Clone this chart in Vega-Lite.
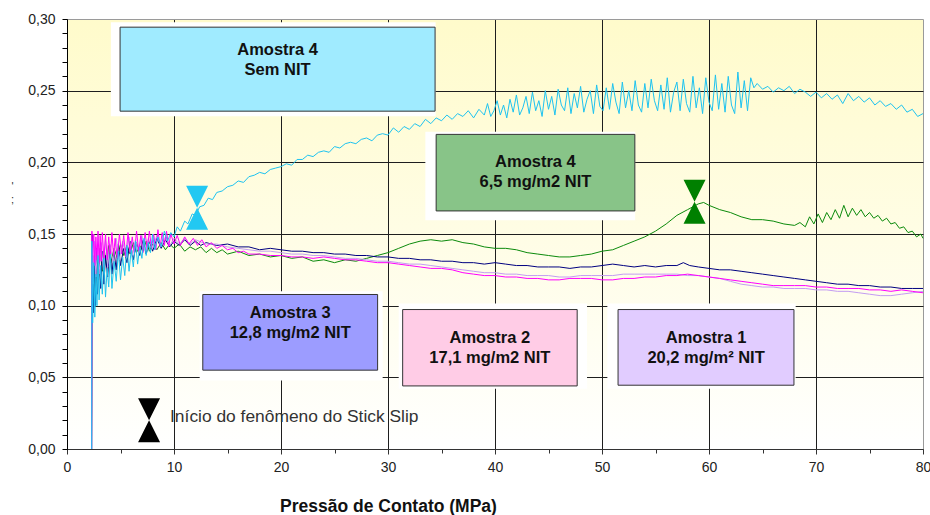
{
"$schema": "https://vega.github.io/schema/vega-lite/v6.json",
"width": 856, "height": 430,
"autosize": "none",
"padding": {"left": 67, "top": 19, "right": 7, "bottom": 66},
"background": "white",
"config": {"view": {"stroke": null, "fill": {"gradient": "linear", "x1": 0, "y1": 0, "x2": 0, "y2": 1, "stops": [{"offset": 0, "color": "#FFFBCB"}, {"offset": 1, "color": "#FFFFFF"}]}}, "font": "Liberation Sans"},
"datasets": {
"green": [{"x":2.3,"y":0.0},{"x":2.35,"y":0.13},{"x":2.45,"y":0.1},{"x":2.55,"y":0.128},{"x":2.65,"y":0.11},{"x":2.8,"y":0.135},{"x":2.95,"y":0.118},{"x":3.1,"y":0.14},{"x":3.3,"y":0.124},{"x":3.5,"y":0.138},{"x":3.7,"y":0.127},{"x":3.9,"y":0.142},{"x":4.1,"y":0.13},{"x":4.4,"y":0.14},{"x":4.7,"y":0.133},{"x":5.0,"y":0.143},{"x":5.3,"y":0.135},{"x":5.6,"y":0.142},{"x":5.9,"y":0.136},{"x":6.2,"y":0.144},{"x":6.5,"y":0.137},{"x":6.8,"y":0.142},{"x":7.1,"y":0.138},{"x":7.4,"y":0.145},{"x":7.7,"y":0.138},{"x":8.0,"y":0.143},{"x":8.4,"y":0.139},{"x":8.8,"y":0.144},{"x":9.2,"y":0.139},{"x":9.6,"y":0.143},{"x":10.0,"y":0.14},{"x":10.5,"y":0.143},{"x":11.0,"y":0.138},{"x":11.5,"y":0.141},{"x":12.0,"y":0.139},{"x":12.5,"y":0.141},{"x":13.0,"y":0.137},{"x":13.5,"y":0.14},{"x":14.0,"y":0.137},{"x":14.5,"y":0.139},{"x":15.0,"y":0.136},{"x":16.0,"y":0.138},{"x":17.0,"y":0.135},{"x":18.0,"y":0.136},{"x":19.0,"y":0.134},{"x":20.0,"y":0.135},{"x":21.0,"y":0.133},{"x":22.0,"y":0.134},{"x":23.0,"y":0.131},{"x":24.0,"y":0.132},{"x":25.0,"y":0.13},{"x":26.0,"y":0.132},{"x":27.0,"y":0.131},{"x":28.0,"y":0.133},{"x":29.0,"y":0.135},{"x":30.0,"y":0.137},{"x":31.0,"y":0.14},{"x":32.0,"y":0.143},{"x":33.0,"y":0.145},{"x":34.0,"y":0.146},{"x":35.0,"y":0.145},{"x":36.0,"y":0.146},{"x":37.0,"y":0.144},{"x":38.0,"y":0.143},{"x":39.0,"y":0.141},{"x":40.0,"y":0.14},{"x":41.0,"y":0.14},{"x":42.0,"y":0.139},{"x":43.0,"y":0.137},{"x":44.0,"y":0.136},{"x":45.0,"y":0.135},{"x":46.0,"y":0.134},{"x":47.0,"y":0.134},{"x":48.0,"y":0.135},{"x":49.0,"y":0.136},{"x":50.0,"y":0.138},{"x":51.0,"y":0.139},{"x":52.0,"y":0.142},{"x":53.0,"y":0.145},{"x":54.0,"y":0.148},{"x":55.0,"y":0.152},{"x":56.0,"y":0.157},{"x":57.0,"y":0.163},{"x":58.0,"y":0.167},{"x":59.0,"y":0.171},{"x":59.5,"y":0.172},{"x":60.0,"y":0.17},{"x":61.0,"y":0.167},{"x":62.0,"y":0.165},{"x":63.0,"y":0.162},{"x":64.0,"y":0.16},{"x":65.0,"y":0.16},{"x":66.0,"y":0.159},{"x":67.0,"y":0.157},{"x":68.0,"y":0.156},{"x":68.5,"y":0.158},{"x":69.0,"y":0.155},{"x":69.4,"y":0.162},{"x":69.8,"y":0.157},{"x":70.2,"y":0.164},{"x":70.6,"y":0.158},{"x":71.0,"y":0.165},{"x":71.4,"y":0.16},{"x":71.8,"y":0.167},{"x":72.2,"y":0.161},{"x":72.6,"y":0.17},{"x":73.0,"y":0.162},{"x":73.4,"y":0.168},{"x":73.8,"y":0.163},{"x":74.2,"y":0.167},{"x":74.6,"y":0.162},{"x":75.0,"y":0.165},{"x":75.4,"y":0.161},{"x":75.8,"y":0.163},{"x":76.2,"y":0.159},{"x":76.6,"y":0.161},{"x":77.0,"y":0.157},{"x":77.4,"y":0.158},{"x":77.8,"y":0.154},{"x":78.2,"y":0.155},{"x":78.6,"y":0.151},{"x":79.0,"y":0.152},{"x":79.4,"y":0.148},{"x":79.8,"y":0.15},{"x":80.0,"y":0.147}],
"navy": [{"x":2.3,"y":0.0},{"x":2.35,"y":0.15},{"x":2.45,"y":0.095},{"x":2.55,"y":0.135},{"x":2.65,"y":0.1},{"x":2.75,"y":0.14},{"x":2.85,"y":0.108},{"x":3.0,"y":0.13},{"x":3.15,"y":0.112},{"x":3.3,"y":0.138},{"x":3.45,"y":0.115},{"x":3.6,"y":0.135},{"x":3.8,"y":0.12},{"x":4.0,"y":0.142},{"x":4.2,"y":0.122},{"x":4.4,"y":0.138},{"x":4.6,"y":0.125},{"x":4.8,"y":0.143},{"x":5.0,"y":0.128},{"x":5.3,"y":0.14},{"x":5.6,"y":0.13},{"x":5.9,"y":0.145},{"x":6.2,"y":0.132},{"x":6.5,"y":0.144},{"x":6.8,"y":0.135},{"x":7.1,"y":0.146},{"x":7.4,"y":0.136},{"x":7.7,"y":0.145},{"x":8.0,"y":0.138},{"x":8.4,"y":0.147},{"x":8.8,"y":0.14},{"x":9.2,"y":0.146},{"x":9.6,"y":0.141},{"x":10.0,"y":0.145},{"x":10.5,"y":0.142},{"x":11.0,"y":0.146},{"x":11.5,"y":0.142},{"x":12.0,"y":0.145},{"x":12.5,"y":0.142},{"x":13.0,"y":0.144},{"x":14.0,"y":0.142},{"x":15.0,"y":0.143},{"x":16.0,"y":0.141},{"x":17.0,"y":0.141},{"x":18.0,"y":0.139},{"x":19.0,"y":0.14},{"x":20.0,"y":0.139},{"x":21.0,"y":0.138},{"x":22.0,"y":0.138},{"x":23.0,"y":0.137},{"x":24.0,"y":0.137},{"x":25.0,"y":0.136},{"x":26.0,"y":0.136},{"x":27.0,"y":0.135},{"x":28.0,"y":0.135},{"x":29.0,"y":0.134},{"x":30.0,"y":0.134},{"x":31.0,"y":0.133},{"x":32.0,"y":0.133},{"x":33.0,"y":0.132},{"x":34.0,"y":0.132},{"x":35.0,"y":0.131},{"x":36.0,"y":0.131},{"x":37.0,"y":0.13},{"x":38.0,"y":0.13},{"x":39.0,"y":0.129},{"x":40.0,"y":0.13},{"x":41.0,"y":0.129},{"x":42.0,"y":0.128},{"x":43.0,"y":0.128},{"x":44.0,"y":0.127},{"x":45.0,"y":0.127},{"x":46.0,"y":0.127},{"x":47.0,"y":0.126},{"x":48.0,"y":0.127},{"x":49.0,"y":0.127},{"x":50.0,"y":0.128},{"x":51.0,"y":0.129},{"x":52.0,"y":0.128},{"x":53.0,"y":0.127},{"x":54.0,"y":0.128},{"x":55.0,"y":0.127},{"x":56.0,"y":0.128},{"x":57.0,"y":0.128},{"x":57.6,"y":0.13},{"x":58.2,"y":0.128},{"x":59.0,"y":0.127},{"x":60.0,"y":0.126},{"x":61.0,"y":0.125},{"x":62.0,"y":0.125},{"x":63.0,"y":0.124},{"x":64.0,"y":0.123},{"x":65.0,"y":0.122},{"x":66.0,"y":0.121},{"x":67.0,"y":0.12},{"x":68.0,"y":0.119},{"x":69.0,"y":0.118},{"x":70.0,"y":0.117},{"x":71.0,"y":0.116},{"x":72.0,"y":0.115},{"x":73.0,"y":0.115},{"x":74.0,"y":0.114},{"x":75.0,"y":0.114},{"x":76.0,"y":0.113},{"x":77.0,"y":0.113},{"x":78.0,"y":0.112},{"x":79.0,"y":0.112},{"x":80.0,"y":0.112}],
"lavender": [{"x":2.3,"y":0.0},{"x":2.35,"y":0.14},{"x":2.45,"y":0.115},{"x":2.55,"y":0.145},{"x":2.7,"y":0.12},{"x":2.85,"y":0.142},{"x":3.0,"y":0.122},{"x":3.2,"y":0.144},{"x":3.4,"y":0.125},{"x":3.6,"y":0.146},{"x":3.8,"y":0.127},{"x":4.0,"y":0.143},{"x":4.3,"y":0.13},{"x":4.6,"y":0.147},{"x":4.9,"y":0.132},{"x":5.2,"y":0.145},{"x":5.5,"y":0.134},{"x":5.8,"y":0.148},{"x":6.1,"y":0.135},{"x":6.4,"y":0.146},{"x":6.7,"y":0.137},{"x":7.0,"y":0.149},{"x":7.3,"y":0.138},{"x":7.6,"y":0.147},{"x":8.0,"y":0.14},{"x":8.4,"y":0.149},{"x":8.8,"y":0.141},{"x":9.2,"y":0.148},{"x":9.6,"y":0.142},{"x":10.0,"y":0.147},{"x":10.5,"y":0.143},{"x":11.0,"y":0.147},{"x":11.5,"y":0.143},{"x":12.0,"y":0.146},{"x":13.0,"y":0.143},{"x":14.0,"y":0.143},{"x":15.0,"y":0.141},{"x":16.0,"y":0.14},{"x":17.0,"y":0.139},{"x":18.0,"y":0.138},{"x":19.0,"y":0.138},{"x":20.0,"y":0.137},{"x":21.0,"y":0.136},{"x":22.0,"y":0.136},{"x":23.0,"y":0.135},{"x":24.0,"y":0.135},{"x":25.0,"y":0.134},{"x":26.0,"y":0.133},{"x":27.0,"y":0.133},{"x":28.0,"y":0.132},{"x":29.0,"y":0.131},{"x":30.0,"y":0.131},{"x":31.0,"y":0.13},{"x":32.0,"y":0.129},{"x":33.0,"y":0.129},{"x":34.0,"y":0.128},{"x":35.0,"y":0.127},{"x":36.0,"y":0.126},{"x":37.0,"y":0.125},{"x":38.0,"y":0.124},{"x":39.0,"y":0.123},{"x":40.0,"y":0.123},{"x":41.0,"y":0.122},{"x":42.0,"y":0.122},{"x":43.0,"y":0.121},{"x":44.0,"y":0.121},{"x":45.0,"y":0.121},{"x":46.0,"y":0.12},{"x":47.0,"y":0.12},{"x":48.0,"y":0.121},{"x":49.0,"y":0.121},{"x":50.0,"y":0.121},{"x":51.0,"y":0.121},{"x":52.0,"y":0.122},{"x":53.0,"y":0.122},{"x":54.0,"y":0.122},{"x":55.0,"y":0.122},{"x":56.0,"y":0.122},{"x":57.0,"y":0.122},{"x":58.0,"y":0.121},{"x":59.0,"y":0.121},{"x":60.0,"y":0.12},{"x":61.0,"y":0.119},{"x":62.0,"y":0.117},{"x":63.0,"y":0.115},{"x":64.0,"y":0.114},{"x":65.0,"y":0.113},{"x":66.0,"y":0.113},{"x":67.0,"y":0.112},{"x":68.0,"y":0.112},{"x":69.0,"y":0.112},{"x":70.0,"y":0.111},{"x":71.0,"y":0.111},{"x":72.0,"y":0.11},{"x":73.0,"y":0.11},{"x":74.0,"y":0.109},{"x":75.0,"y":0.108},{"x":76.0,"y":0.107},{"x":77.0,"y":0.107},{"x":78.0,"y":0.108},{"x":79.0,"y":0.109},{"x":80.0,"y":0.11}],
"magenta": [{"x":2.3,"y":0.0},{"x":2.33,"y":0.152},{"x":2.4,"y":0.13},{"x":2.5,"y":0.15},{"x":2.6,"y":0.128},{"x":2.7,"y":0.148},{"x":2.8,"y":0.132},{"x":2.9,"y":0.152},{"x":3.0,"y":0.13},{"x":3.1,"y":0.149},{"x":3.2,"y":0.131},{"x":3.3,"y":0.151},{"x":3.45,"y":0.133},{"x":3.6,"y":0.15},{"x":3.75,"y":0.132},{"x":3.9,"y":0.148},{"x":4.05,"y":0.134},{"x":4.2,"y":0.151},{"x":4.35,"y":0.135},{"x":4.5,"y":0.147},{"x":4.7,"y":0.133},{"x":4.9,"y":0.15},{"x":5.1,"y":0.136},{"x":5.3,"y":0.149},{"x":5.5,"y":0.134},{"x":5.7,"y":0.151},{"x":5.9,"y":0.137},{"x":6.1,"y":0.148},{"x":6.3,"y":0.136},{"x":6.5,"y":0.152},{"x":6.7,"y":0.138},{"x":6.9,"y":0.149},{"x":7.1,"y":0.137},{"x":7.3,"y":0.151},{"x":7.5,"y":0.139},{"x":7.7,"y":0.152},{"x":7.9,"y":0.14},{"x":8.1,"y":0.15},{"x":8.3,"y":0.139},{"x":8.5,"y":0.153},{"x":8.7,"y":0.141},{"x":8.9,"y":0.151},{"x":9.1,"y":0.142},{"x":9.3,"y":0.152},{"x":9.5,"y":0.141},{"x":9.7,"y":0.15},{"x":10.0,"y":0.143},{"x":10.3,"y":0.149},{"x":10.6,"y":0.142},{"x":11.0,"y":0.148},{"x":11.4,"y":0.143},{"x":11.8,"y":0.147},{"x":12.2,"y":0.142},{"x":12.6,"y":0.146},{"x":13.0,"y":0.141},{"x":13.5,"y":0.144},{"x":14.0,"y":0.14},{"x":14.5,"y":0.142},{"x":15.0,"y":0.139},{"x":15.5,"y":0.14},{"x":16.0,"y":0.137},{"x":16.5,"y":0.138},{"x":17.0,"y":0.136},{"x":18.0,"y":0.136},{"x":19.0,"y":0.135},{"x":20.0,"y":0.135},{"x":21.0,"y":0.134},{"x":22.0,"y":0.134},{"x":23.0,"y":0.133},{"x":24.0,"y":0.134},{"x":25.0,"y":0.133},{"x":26.0,"y":0.132},{"x":27.0,"y":0.132},{"x":28.0,"y":0.131},{"x":29.0,"y":0.13},{"x":30.0,"y":0.13},{"x":31.0,"y":0.129},{"x":32.0,"y":0.128},{"x":33.0,"y":0.127},{"x":34.0,"y":0.126},{"x":35.0,"y":0.126},{"x":36.0,"y":0.125},{"x":37.0,"y":0.123},{"x":38.0,"y":0.122},{"x":39.0,"y":0.121},{"x":40.0,"y":0.121},{"x":41.0,"y":0.12},{"x":42.0,"y":0.12},{"x":43.0,"y":0.119},{"x":44.0,"y":0.119},{"x":45.0,"y":0.118},{"x":46.0,"y":0.118},{"x":47.0,"y":0.119},{"x":48.0,"y":0.119},{"x":49.0,"y":0.119},{"x":50.0,"y":0.118},{"x":51.0,"y":0.118},{"x":52.0,"y":0.119},{"x":53.0,"y":0.119},{"x":54.0,"y":0.12},{"x":55.0,"y":0.12},{"x":56.0,"y":0.121},{"x":57.0,"y":0.121},{"x":58.0,"y":0.122},{"x":59.0,"y":0.121},{"x":60.0,"y":0.12},{"x":61.0,"y":0.119},{"x":62.0,"y":0.118},{"x":63.0,"y":0.117},{"x":64.0,"y":0.116},{"x":65.0,"y":0.115},{"x":66.0,"y":0.114},{"x":67.0,"y":0.114},{"x":68.0,"y":0.114},{"x":69.0,"y":0.114},{"x":70.0,"y":0.113},{"x":71.0,"y":0.113},{"x":72.0,"y":0.112},{"x":73.0,"y":0.112},{"x":74.0,"y":0.112},{"x":75.0,"y":0.111},{"x":76.0,"y":0.111},{"x":77.0,"y":0.11},{"x":78.0,"y":0.111},{"x":79.0,"y":0.11},{"x":80.0,"y":0.109}],
"cyan": [{"x":2.3,"y":0.0},{"x":2.32,"y":0.145},{"x":2.4,"y":0.088},{"x":2.5,"y":0.13},{"x":2.6,"y":0.092},{"x":2.7,"y":0.122},{"x":2.8,"y":0.1},{"x":2.9,"y":0.135},{"x":3.0,"y":0.104},{"x":3.15,"y":0.128},{"x":3.3,"y":0.108},{"x":3.45,"y":0.133},{"x":3.6,"y":0.106},{"x":3.75,"y":0.126},{"x":3.9,"y":0.113},{"x":4.05,"y":0.136},{"x":4.2,"y":0.112},{"x":4.4,"y":0.131},{"x":4.6,"y":0.117},{"x":4.8,"y":0.138},{"x":5.0,"y":0.118},{"x":5.2,"y":0.134},{"x":5.4,"y":0.121},{"x":5.6,"y":0.142},{"x":5.8,"y":0.124},{"x":6.0,"y":0.139},{"x":6.2,"y":0.127},{"x":6.4,"y":0.145},{"x":6.6,"y":0.129},{"x":6.8,"y":0.141},{"x":7.0,"y":0.133},{"x":7.2,"y":0.147},{"x":7.4,"y":0.135},{"x":7.6,"y":0.144},{"x":7.8,"y":0.137},{"x":8.0,"y":0.15},{"x":8.2,"y":0.139},{"x":8.5,"y":0.148},{"x":8.8,"y":0.141},{"x":9.1,"y":0.152},{"x":9.4,"y":0.145},{"x":9.7,"y":0.151},{"x":10.0,"y":0.148},{"x":10.3,"y":0.155},{"x":10.6,"y":0.152},{"x":11.0,"y":0.159},{"x":11.3,"y":0.157},{"x":11.7,"y":0.164},{"x":12.0,"y":0.163},{"x":12.4,"y":0.169},{"x":12.8,"y":0.17},{"x":13.2,"y":0.175},{"x":13.6,"y":0.174},{"x":14.0,"y":0.179},{"x":14.5,"y":0.18},{"x":15.0,"y":0.183},{"x":15.5,"y":0.184},{"x":16.0,"y":0.187},{"x":16.5,"y":0.186},{"x":17.0,"y":0.19},{"x":17.5,"y":0.191},{"x":18.0,"y":0.193},{"x":18.5,"y":0.192},{"x":19.0,"y":0.195},{"x":19.5,"y":0.196},{"x":20.0,"y":0.197},{"x":20.5,"y":0.199},{"x":21.0,"y":0.198},{"x":21.5,"y":0.202},{"x":22.0,"y":0.202},{"x":22.5,"y":0.205},{"x":23.0,"y":0.204},{"x":23.5,"y":0.207},{"x":24.0,"y":0.208},{"x":24.5,"y":0.207},{"x":25.0,"y":0.211},{"x":25.5,"y":0.21},{"x":26.0,"y":0.213},{"x":26.5,"y":0.214},{"x":27.0,"y":0.213},{"x":27.5,"y":0.216},{"x":28.0,"y":0.217},{"x":28.5,"y":0.215},{"x":29.0,"y":0.219},{"x":29.5,"y":0.22},{"x":30.0,"y":0.219},{"x":30.5,"y":0.224},{"x":31.0,"y":0.221},{"x":31.5,"y":0.225},{"x":32.0,"y":0.223},{"x":32.5,"y":0.227},{"x":33.0,"y":0.225},{"x":33.5,"y":0.23},{"x":34.0,"y":0.227},{"x":34.5,"y":0.231},{"x":35.0,"y":0.229},{"x":35.5,"y":0.233},{"x":36.0,"y":0.23},{"x":36.5,"y":0.234},{"x":37.0,"y":0.232},{"x":37.5,"y":0.236},{"x":38.0,"y":0.231},{"x":38.5,"y":0.237},{"x":39.0,"y":0.233},{"x":39.3,"y":0.241},{"x":39.6,"y":0.232},{"x":39.9,"y":0.236},{"x":40.2,"y":0.243},{"x":40.5,"y":0.233},{"x":40.8,"y":0.24},{"x":41.1,"y":0.231},{"x":41.4,"y":0.244},{"x":41.7,"y":0.235},{"x":42.0,"y":0.247},{"x":42.3,"y":0.233},{"x":42.6,"y":0.238},{"x":42.9,"y":0.246},{"x":43.2,"y":0.234},{"x":43.5,"y":0.249},{"x":43.8,"y":0.236},{"x":44.1,"y":0.243},{"x":44.4,"y":0.232},{"x":44.7,"y":0.25},{"x":45.0,"y":0.237},{"x":45.3,"y":0.246},{"x":45.6,"y":0.233},{"x":45.9,"y":0.251},{"x":46.2,"y":0.24},{"x":46.5,"y":0.236},{"x":46.8,"y":0.252},{"x":47.1,"y":0.234},{"x":47.4,"y":0.248},{"x":47.7,"y":0.238},{"x":48.0,"y":0.253},{"x":48.3,"y":0.235},{"x":48.6,"y":0.244},{"x":48.9,"y":0.25},{"x":49.2,"y":0.234},{"x":49.5,"y":0.254},{"x":49.8,"y":0.239},{"x":50.1,"y":0.236},{"x":50.4,"y":0.252},{"x":50.7,"y":0.237},{"x":51.0,"y":0.255},{"x":51.3,"y":0.242},{"x":51.6,"y":0.234},{"x":51.9,"y":0.256},{"x":52.2,"y":0.238},{"x":52.5,"y":0.25},{"x":52.8,"y":0.236},{"x":53.1,"y":0.257},{"x":53.4,"y":0.24},{"x":53.7,"y":0.235},{"x":54.0,"y":0.255},{"x":54.3,"y":0.238},{"x":54.6,"y":0.258},{"x":54.9,"y":0.243},{"x":55.2,"y":0.236},{"x":55.5,"y":0.254},{"x":55.8,"y":0.237},{"x":56.1,"y":0.259},{"x":56.4,"y":0.235},{"x":56.7,"y":0.249},{"x":57.0,"y":0.256},{"x":57.3,"y":0.236},{"x":57.6,"y":0.258},{"x":57.9,"y":0.241},{"x":58.2,"y":0.235},{"x":58.5,"y":0.26},{"x":58.8,"y":0.238},{"x":59.1,"y":0.252},{"x":59.4,"y":0.234},{"x":59.7,"y":0.259},{"x":60.0,"y":0.242},{"x":60.3,"y":0.236},{"x":60.6,"y":0.261},{"x":60.9,"y":0.237},{"x":61.2,"y":0.255},{"x":61.5,"y":0.235},{"x":61.8,"y":0.26},{"x":62.1,"y":0.24},{"x":62.4,"y":0.234},{"x":62.7,"y":0.263},{"x":63.0,"y":0.238},{"x":63.3,"y":0.257},{"x":63.6,"y":0.236},{"x":63.9,"y":0.259},{"x":64.2,"y":0.252},{"x":64.5,"y":0.255},{"x":65.0,"y":0.251},{"x":65.5,"y":0.253},{"x":66.0,"y":0.249},{"x":66.5,"y":0.252},{"x":67.0,"y":0.25},{"x":67.5,"y":0.253},{"x":68.0,"y":0.248},{"x":68.5,"y":0.251},{"x":69.0,"y":0.249},{"x":69.5,"y":0.246},{"x":70.0,"y":0.249},{"x":70.5,"y":0.245},{"x":71.0,"y":0.248},{"x":71.5,"y":0.244},{"x":72.0,"y":0.247},{"x":72.5,"y":0.241},{"x":73.0,"y":0.248},{"x":73.5,"y":0.243},{"x":74.0,"y":0.246},{"x":74.5,"y":0.242},{"x":75.0,"y":0.245},{"x":75.5,"y":0.24},{"x":76.0,"y":0.243},{"x":76.5,"y":0.239},{"x":77.0,"y":0.241},{"x":77.5,"y":0.237},{"x":78.0,"y":0.24},{"x":78.5,"y":0.235},{"x":79.0,"y":0.237},{"x":79.5,"y":0.232},{"x":80.0,"y":0.234}],
"whites": [{"k":"a4s","x1":4.1,"x2":34.45,"y1":0.2322,"y2":0.2978},{"k":"a4g","x1":33.49,"x2":53.1,"y1":0.1596,"y2":0.2213},{"k":"a3","x1":12.4,"x2":29.5,"y1":0.0478,"y2":0.11},{"k":"a2","x1":31.0,"x2":48.6,"y1":0.042,"y2":0.1015},{"k":"a1","x1":50.5,"x2":68.1,"y1":0.042,"y2":0.1015}],
"boxes": [{"k":"a4s","x1":4.96,"x2":34.4,"y1":0.2357,"y2":0.2943},{"k":"a4g","x1":34.5,"x2":53.07,"y1":0.1661,"y2":0.2195},{"k":"a3","x1":12.69,"x2":29.03,"y1":0.055,"y2":0.1078},{"k":"a2","x1":31.37,"x2":47.68,"y1":0.044,"y2":0.0973},{"k":"a1","x1":51.5,"x2":67.94,"y1":0.0445,"y2":0.0973}],
"labels": [{"t":"Amostra 4","x":19.68,"y":0.2782},{"t":"Sem NIT","x":19.68,"y":0.2643},{"t":"Amostra 4","x":43.78,"y":0.2003},{"t":"6,5 mg/m2 NIT","x":43.78,"y":0.186},{"t":"Amostra 3","x":20.86,"y":0.0947},{"t":"12,8 mg/m2 NIT","x":20.86,"y":0.081},{"t":"Amostra 2","x":39.52,"y":0.0771},{"t":"17,1 mg/m2 NIT","x":39.52,"y":0.0638},{"t":"Amostra 1","x":59.73,"y":0.0771},{"t":"20,2 mg/m² NIT","x":59.73,"y":0.0638}],
"markers": [{"k":"black","x":7.67,"y":0.02},{"k":"cyan","x":12.16,"y":0.1684},{"k":"green","x":58.65,"y":0.1725}],
"note": [{"t":"Início do fenômeno do Stick Slip","x":9.63,"y":0.0223}]
},
"layer": [
{"data": {"name": "green"}, "mark": {"type": "line", "color": "#0B8A0B", "strokeWidth": 1},
 "encoding": {
  "x": {"field": "x", "type": "quantitative", "scale": {"domain": [0, 80], "nice": false},
   "axis": {"title": "Pressão de Contato (MPa)", "values": [0,5,10,15,20,25,30,35,40,45,50,55,60,65,70,75,80], "tickCount": 200,
    "labelExpr": "datum.value % 10 == 0 ? format(datum.value, 'd') : ''", "labelFlush": false, "labelOverlap": false, "labelBound": false,
    "labelFont": "Liberation Sans", "labelFontSize": 14, "labelColor": "#222", "labelPadding": 6,
    "tickColor": "#333", "tickSize": {"condition": {"test": "datum.value % 10 != 0", "value": 4}, "value": 5},
    "domainColor": "#333", "grid": true,
    "gridColor": {"condition": {"test": "datum.value == 80", "value": "#9a9a9a"}, "value": "#1e1e1e"},
    "gridOpacity": {"condition": {"test": "datum.value % 10 != 0", "value": 0}, "value": 1},
    "titleFont": "Liberation Sans", "titleFontSize": 17.5, "titleFontWeight": "bold", "titleColor": "#111",
    "titleX": 321, "titleY": 62, "titleAlign": "center", "titleBaseline": "alphabetic"}},
  "y": {"field": "y", "type": "quantitative", "scale": {"domain": [0, 0.3], "nice": false},
   "axis": {"title": ["'", ";"], "values": [0,0.01,0.02,0.03,0.04,0.05,0.06,0.07,0.08,0.09,0.1,0.11,0.12,0.13,0.14,0.15,0.16,0.17,0.18,0.19,0.2,0.21,0.22,0.23,0.24,0.25,0.26,0.27,0.28,0.29,0.3], "tickCount": 200,
    "labelExpr": "round(datum.value*100) % 5 == 0 ? replace(format(datum.value, '.2f'), '.', ',') : ''",
    "labelFlush": false, "labelOverlap": false, "labelBound": false,
    "labelFont": "Liberation Sans", "labelFontSize": 14, "labelColor": "#222", "labelPadding": 7,
    "tickColor": "#000", "tickSize": 5, "domainColor": "#000", "grid": true,
    "gridColor": {"condition": {"test": "datum.value > 0.295", "value": "#9a9a9a"}, "value": "#1e1e1e"},
    "gridOpacity": {"condition": {"test": "round(datum.value*100) % 5 != 0", "value": 0}, "value": 1},
    "titleAngle": 0, "titleX": -55, "titleY": 161, "titleFontSize": 11, "titleFontWeight": "normal", "titleColor": "#333",
    "titleLineHeight": 13, "titleBaseline": "top", "titleAlign": "center"}}
 }},
{"data": {"name": "navy"}, "mark": {"type": "line", "color": "#000080", "strokeWidth": 1},
 "encoding": {"x": {"field": "x", "type": "quantitative", "scale": {"domain": [0, 80], "nice": false}}, "y": {"field": "y", "type": "quantitative", "scale": {"domain": [0, 0.3], "nice": false}}}},
{"data": {"name": "lavender"}, "mark": {"type": "line", "color": "#C39CF2", "strokeWidth": 1},
 "encoding": {"x": {"field": "x", "type": "quantitative", "scale": {"domain": [0, 80], "nice": false}}, "y": {"field": "y", "type": "quantitative", "scale": {"domain": [0, 0.3], "nice": false}}}},
{"data": {"name": "magenta"}, "mark": {"type": "line", "color": "#FF00FF", "strokeWidth": 1},
 "encoding": {"x": {"field": "x", "type": "quantitative", "scale": {"domain": [0, 80], "nice": false}}, "y": {"field": "y", "type": "quantitative", "scale": {"domain": [0, 0.3], "nice": false}}}},
{"data": {"name": "cyan"}, "mark": {"type": "line", "color": "#1EC3F0", "strokeWidth": 1},
 "encoding": {"x": {"field": "x", "type": "quantitative", "scale": {"domain": [0, 80], "nice": false}}, "y": {"field": "y", "type": "quantitative", "scale": {"domain": [0, 0.3], "nice": false}}}},
{"data": {"name": "whites"}, "mark": {"type": "rect", "fill": "#FFFFFF", "stroke": null},
 "encoding": {"x": {"field": "x1", "type": "quantitative", "scale": {"domain": [0, 80], "nice": false}}, "x2": {"field": "x2"},
  "y": {"field": "y1", "type": "quantitative", "scale": {"domain": [0, 0.3], "nice": false}}, "y2": {"field": "y2"}}},
{"data": {"name": "boxes"}, "mark": {"type": "rect", "stroke": "#333333", "strokeWidth": 1},
 "encoding": {"x": {"field": "x1", "type": "quantitative", "scale": {"domain": [0, 80], "nice": false}}, "x2": {"field": "x2"},
  "y": {"field": "y1", "type": "quantitative", "scale": {"domain": [0, 0.3], "nice": false}}, "y2": {"field": "y2"},
  "fill": {"field": "k", "type": "nominal", "scale": {"domain": ["a4s", "a4g", "a3", "a2", "a1"], "range": ["#A0EBFF", "#88C488", "#9C9CFF", "#FFCCE6", "#E1CCFF"]}, "legend": null}}},
{"data": {"name": "labels"}, "mark": {"type": "text", "font": "Liberation Sans", "fontSize": 16.5, "fontWeight": "bold", "color": "#111", "align": "center", "baseline": "middle"},
 "encoding": {"x": {"field": "x", "type": "quantitative", "scale": {"domain": [0, 80], "nice": false}}, "y": {"field": "y", "type": "quantitative", "scale": {"domain": [0, 0.3], "nice": false}}, "text": {"field": "t"}}},
{"data": {"name": "markers"}, "mark": {"type": "point", "filled": true, "opacity": 1, "size": 1936, "shape": "M-0.5,-1L0.5,-1L0,0L0.5,1L-0.5,1L0,0Z"},
 "encoding": {"x": {"field": "x", "type": "quantitative", "scale": {"domain": [0, 80], "nice": false}}, "y": {"field": "y", "type": "quantitative", "scale": {"domain": [0, 0.3], "nice": false}},
  "color": {"field": "k", "type": "nominal", "scale": {"domain": ["black", "cyan", "green"], "range": ["#000000", "#22C8F2", "#008000"]}, "legend": null}}},
{"data": {"name": "note"}, "mark": {"type": "text", "font": "Liberation Sans", "fontSize": 17.4, "color": "#333", "align": "left", "baseline": "middle"},
 "encoding": {"x": {"field": "x", "type": "quantitative", "scale": {"domain": [0, 80], "nice": false}}, "y": {"field": "y", "type": "quantitative", "scale": {"domain": [0, 0.3], "nice": false}}, "text": {"field": "t"}}}
]
}
